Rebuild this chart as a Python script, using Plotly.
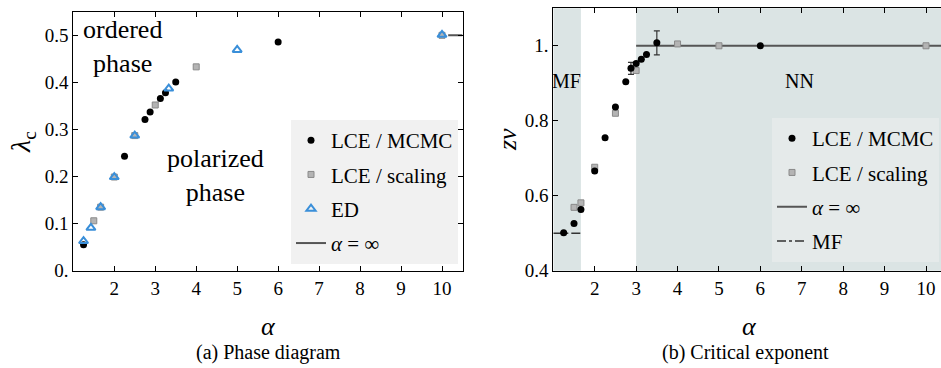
import plotly.graph_objects as go

# ---------------- data: (a) phase diagram ----------------
mcmc_a_x = [1.25, 2.25, 2.75, 2.875, 3.125, 3.25, 3.5, 6]
mcmc_a_y = [0.055, 0.243, 0.321, 0.337, 0.366, 0.378, 0.401, 0.486]
scal_a_x = [1.5, 1.667, 2, 2.5, 3, 4, 10]
scal_a_y = [0.106, 0.135, 0.199, 0.287, 0.352, 0.433, 0.500]
ed_x = [1.25, 1.43, 1.667, 2, 2.5, 3.33, 5, 10]
ed_y = [0.063, 0.091, 0.135, 0.199, 0.287, 0.387, 0.469, 0.501]
inf_a_x = [10.15, 10.5]
inf_a_y = [0.5, 0.5]

# ---------------- data: (b) critical exponent ----------------
mcmc_b_x = [1.25, 1.5, 1.667, 2, 2.25, 2.5, 2.75, 2.875, 3, 3.125, 3.25, 3.5, 6]
mcmc_b_y = [0.501, 0.526, 0.563, 0.666, 0.755, 0.837, 0.904, 0.940, 0.953, 0.964, 0.977, 1.008, 1.0]
mcmc_b_err = [0, 0, 0, 0, 0, 0, 0, 0.016, 0, 0, 0, 0.032, 0]
scal_b_x = [1.5, 1.667, 2, 2.5, 3, 4, 5, 10]
scal_b_y = [0.569, 0.581, 0.676, 0.820, 0.934, 1.005, 1.0, 1.0]
inf_b_x = [3, 10.5]
inf_b_y = [1.0, 1.0]
mf_x = [1.0, 1.667]
mf_y = [0.5, 0.5]
mf_region = [1.0, 1.667]
nn_region = [3.0, 10.5]

yt_a = [0, 0.1, 0.2, 0.3, 0.4, 0.5]
yt_a_txt = ["0.", "0.1", "0.2", "0.3", "0.4", "0.5"]
yt_b = [0.4, 0.6, 0.8, 1.0]
yt_b_txt = ["0.4", "0.6", "0.8", "1."]
xt = [2, 3, 4, 5, 6, 7, 8, 9, 10]

FONT = "Liberation Serif"
BLUE = "#3a8fd9"
GRAY_FILL = "#b4b4b4"
GRAY_LINE = "#8a8a8a"
SHADE = "#dbe4e4"

fig = go.Figure()

# ---- panel (a)
fig.add_trace(go.Scatter(x=inf_a_x, y=inf_a_y, mode="lines", line=dict(color="#555555", width=2),
                         name="<i>α</i> = ∞", legend="legend", legendgroup="a4", legendrank=4,
                         xaxis="x", yaxis="y"))
fig.add_trace(go.Scatter(x=scal_a_x, y=scal_a_y, mode="markers",
                         marker=dict(symbol="square", size=6, color=GRAY_FILL, line=dict(color=GRAY_LINE, width=1)),
                         name="LCE / scaling", legend="legend", legendgroup="a2", legendrank=2,
                         xaxis="x", yaxis="y"))
fig.add_trace(go.Scatter(x=mcmc_a_x, y=mcmc_a_y, mode="markers",
                         marker=dict(symbol="circle", size=7, color="black"),
                         name="LCE / MCMC", legend="legend", legendgroup="a1", legendrank=1,
                         xaxis="x", yaxis="y"))
fig.add_trace(go.Scatter(x=ed_x, y=ed_y, mode="markers",
                         marker=dict(symbol="triangle-up-open", size=8, color=BLUE, line=dict(color=BLUE, width=2)),
                         name="ED", legend="legend", legendgroup="a3", legendrank=3,
                         xaxis="x", yaxis="y"))

# ---- panel (b)
fig.add_trace(go.Scatter(x=inf_b_x, y=inf_b_y, mode="lines", line=dict(color="#555555", width=2),
                         name="<i>α</i> = ∞", legend="legend2", legendgroup="b3", legendrank=3,
                         xaxis="x2", yaxis="y2"))
fig.add_trace(go.Scatter(x=mf_x, y=mf_y, mode="lines", line=dict(color="#333333", width=1.5, dash="dashdot"),
                         name="MF", legend="legend2", legendgroup="b4", legendrank=4,
                         xaxis="x2", yaxis="y2"))
fig.add_trace(go.Scatter(x=scal_b_x, y=scal_b_y, mode="markers",
                         marker=dict(symbol="square", size=6, color=GRAY_FILL, line=dict(color=GRAY_LINE, width=1)),
                         name="LCE / scaling", legend="legend2", legendgroup="b2", legendrank=2,
                         xaxis="x2", yaxis="y2"))
fig.add_trace(go.Scatter(x=mcmc_b_x, y=mcmc_b_y, mode="markers",
                         marker=dict(symbol="circle", size=7, color="black"),
                         error_y=dict(type="data", array=mcmc_b_err, color="#333333", thickness=1.2, width=3),
                         name="LCE / MCMC", legend="legend2", legendgroup="b1", legendrank=1,
                         xaxis="x2", yaxis="y2"))

axis_common = dict(showgrid=False, zeroline=False, showline=True, linecolor="black", linewidth=1,
                   ticks="inside", ticklen=5, tickcolor="black", automargin=False,
                   tickfont=dict(family=FONT, size=19, color="black"))

fig.update_layout(
    template="none",
    width=941, height=368, margin=dict(l=0, r=0, t=0, b=0, pad=0), autosize=False,
    paper_bgcolor="white", plot_bgcolor="white",
    font=dict(family=FONT, color="black"),
    xaxis=dict(domain=[0.0779, 0.4915], range=[1, 10.5], tickvals=xt, mirror="allticks",
               anchor="y", **axis_common),
    yaxis=dict(domain=[0.2644, 0.968], range=[0, 0.55], tickvals=yt_a, ticktext=yt_a_txt,
               mirror="allticks", anchor="x", **axis_common),
    xaxis2=dict(domain=[0.588, 1.0], range=[1, 10.362], tickvals=xt, mirror="allticks",
                anchor="y2", **axis_common),
    yaxis2=dict(domain=[0.2644, 0.9774], range=[0.4, 1.1], tickvals=yt_b, ticktext=yt_b_txt,
                mirror=False, anchor="x2", **axis_common),
    legend=dict(x=291 / 941, y=1 - 120 / 368, xanchor="left", yanchor="top",
                bgcolor="#f1f1f1", borderwidth=0, font=dict(family=FONT, size=21, color="black"),
                traceorder="grouped", tracegroupgap=4, itemwidth=30),
    legend2=dict(x=772 / 941, y=1 - 118 / 368, xanchor="left", yanchor="top",
                 bgcolor="#e5eaea", borderwidth=0, font=dict(family=FONT, size=21, color="black"),
                 traceorder="grouped", tracegroupgap=4, itemwidth=30),
)

# shaded regions in panel (b)
for reg in (mf_region, nn_region):
    fig.add_shape(type="rect", xref="x2", yref="y2 domain", x0=reg[0], x1=reg[1], y0=0, y1=1,
                  fillcolor=SHADE, line=dict(width=0), layer="below")

ann = []
ann.append(dict(text="ordered<br>phase", x=2.21, y=0.477, xref="x", yref="y", showarrow=False,
                xanchor="center", yanchor="middle", align="center", font=dict(family=FONT, size=26)))
ann.append(dict(text="polarized<br>phase", x=4.48, y=0.203, xref="x", yref="y", showarrow=False,
                xanchor="center", yanchor="middle", align="center", font=dict(family=FONT, size=26)))
ann.append(dict(text="MF", x=1.33, y=0.905, xref="x2", yref="y2", showarrow=False,
                font=dict(family=FONT, size=20)))
ann.append(dict(text="NN", x=6.95, y=0.905, xref="x2", yref="y2", showarrow=False,
                font=dict(family=FONT, size=20)))
# axis titles
ann.append(dict(text="<i>α</i>", x=268 / 941, y=1 - 326 / 368, xref="paper", yref="paper",
                xanchor="center", yanchor="middle", showarrow=False, font=dict(family=FONT, size=26)))
ann.append(dict(text="<i>α</i>", x=749 / 941, y=1 - 326 / 368, xref="paper", yref="paper",
                xanchor="center", yanchor="middle", showarrow=False, font=dict(family=FONT, size=26)))
ann.append(dict(text="<i>λ</i><sub>c</sub>", x=22 / 941, y=1 - 142 / 368, xref="paper", yref="paper",
                xanchor="center", yanchor="middle", showarrow=False, textangle=-90,
                font=dict(family=FONT, size=28)))
ann.append(dict(text="<i>zν</i>", x=507 / 941, y=1 - 140 / 368, xref="paper", yref="paper",
                xanchor="center", yanchor="middle", showarrow=False, textangle=-90,
                font=dict(family=FONT, size=26)))
# captions
ann.append(dict(text="(a) Phase diagram", x=268 / 941, y=1 - 352 / 368, xref="paper", yref="paper",
                xanchor="center", yanchor="middle", showarrow=False, font=dict(family=FONT, size=20)))
ann.append(dict(text="(b) Critical exponent", x=745 / 941, y=1 - 352 / 368, xref="paper", yref="paper",
                xanchor="center", yanchor="middle", showarrow=False, font=dict(family=FONT, size=20)))
fig.update_layout(annotations=ann)

fig.write_html("out.html")
